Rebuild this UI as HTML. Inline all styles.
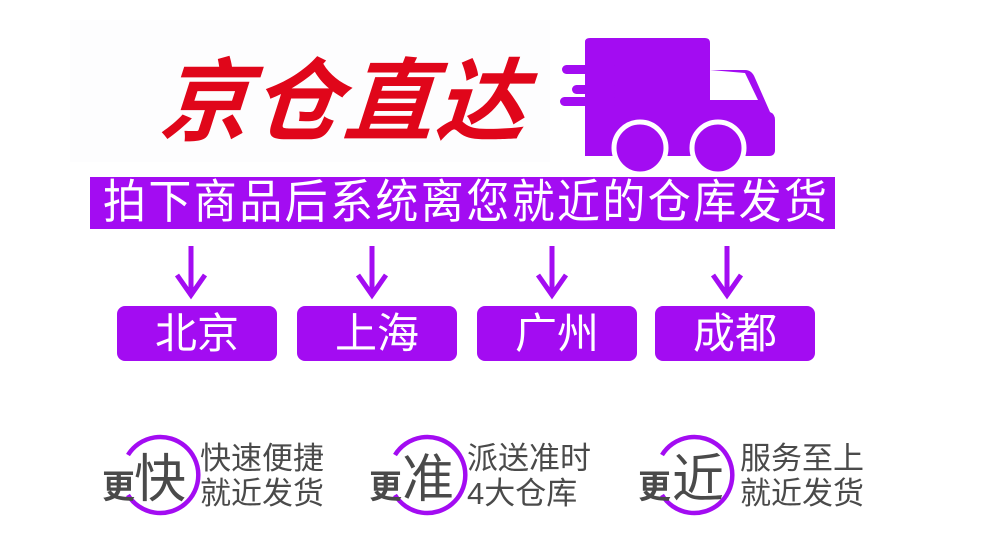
<!DOCTYPE html>
<html><head><meta charset="utf-8"><style>
html,body{margin:0;padding:0;background:#fff;}
body{width:990px;height:560px;position:relative;overflow:hidden;font-family:"Liberation Sans","Noto Sans CJK SC",sans-serif;}
.a{position:absolute;white-space:nowrap;}
.box{position:absolute;top:306px;height:55px;width:160px;background:#a30cf2;border-radius:8px;color:#fff;font-size:42px;line-height:55px;text-align:center;}
.g{color:#4a4a4a;}
</style></head><body>
<div class="a" style="left:70px;top:20px;width:480px;height:142px;background:#fdfdfe;"></div>
<div class="a" style="left:160px;top:48px;font-size:90px;font-weight:bold;color:#e0061a;font-style:italic;letter-spacing:2px;line-height:110px;transform:skewX(-4deg);">京仓直达</div>
<svg class="a" style="left:0;top:0" width="990" height="560">
<g fill="#a30cf2">
<path d="M585 42 Q585 38 590 38 L705 38 Q710 38 710 43 L710 70 L745 70 Q752 70 755 78 L770 112 Q775 114 775 120 L775 150 Q775 156 769 156 L585 156 Z"/>
<rect x="562" y="65" width="55" height="9" rx="4.5"/>
<rect x="572" y="85" width="45" height="9" rx="4.5"/>
<rect x="560" y="97" width="57" height="9" rx="4.5"/>
<circle cx="640" cy="148" r="26" stroke="#fff" stroke-width="5"/>
<circle cx="718" cy="148" r="26" stroke="#fff" stroke-width="5"/>
</g>
<path d="M710 70 L710 100 L758 100 L745 73 Z" fill="#fff"/>
<g stroke="#a30cf2" stroke-width="5" fill="none">
<path d="M191 246 V296 M177 275 L191 295 L205 275"/>
<path d="M372 246 V296 M358 275 L372 295 L386 275"/>
<path d="M552 246 V296 M538 275 L552 295 L566 275"/>
<path d="M727 246 V296 M713 275 L727 295 L741 275"/>
</g>
<g stroke="#a30cf2" stroke-width="4.5" fill="none">
<path d="M128 455 A38 38 0 1 1 128 495"/>
<path d="M395 455 A38 38 0 1 1 395 495"/>
<path d="M662 455 A38 38 0 1 1 662 495"/>
</g>
</svg>
<div class="a" style="left:90px;top:177px;width:745px;height:52px;background:#a30cf2;"></div>
<div class="a" style="left:103px;top:177px;font-size:43px;line-height:52px;color:#fff;letter-spacing:2.4px;transform:scaleY(1.08);">拍下商品后系统离您就近的仓库发货</div>
<div class="box" style="left:117px;">北京</div>
<div class="box" style="left:297px;">上海</div>
<div class="box" style="left:477px;">广州</div>
<div class="box" style="left:655px;">成都</div>

<div class="a g" style="left:102px;top:468px;font-size:33px;font-weight:bold;line-height:38px;">更</div>
<div class="a g" style="left:134px;top:450px;font-size:52px;line-height:60px;">快</div>
<div class="a g" style="left:200px;top:441px;font-size:31px;line-height:35px;">快速便捷<br>就近发货</div>

<div class="a g" style="left:369px;top:468px;font-size:33px;font-weight:bold;line-height:38px;">更</div>
<div class="a g" style="left:402px;top:450px;font-size:52px;line-height:60px;">准</div>
<div class="a g" style="left:467px;top:441px;font-size:31px;line-height:35px;">派送准时<br>4大仓库</div>

<div class="a g" style="left:638px;top:468px;font-size:33px;font-weight:bold;line-height:38px;">更</div>
<div class="a g" style="left:672px;top:450px;font-size:52px;line-height:60px;">近</div>
<div class="a g" style="left:740px;top:441px;font-size:31px;line-height:35px;">服务至上<br>就近发货</div>
</body></html>
